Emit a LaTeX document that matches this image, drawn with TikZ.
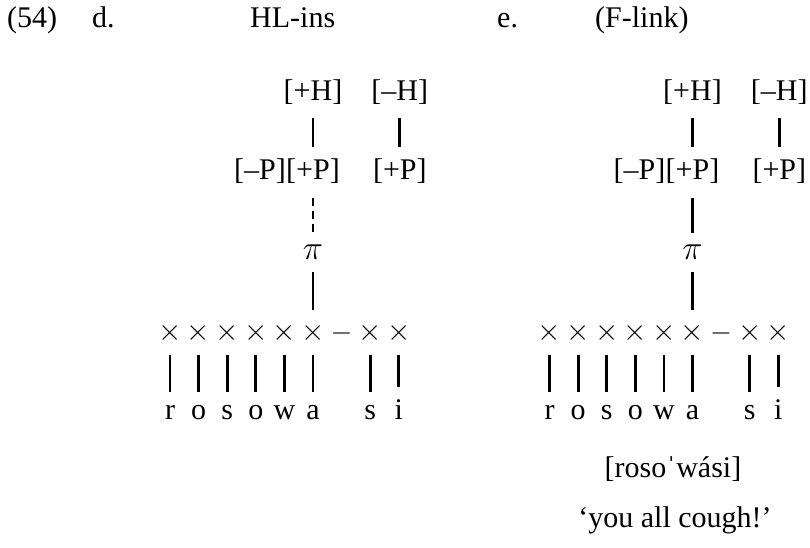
\documentclass[tikz,border=0pt]{standalone}
\usepackage{fix-cm}
\usepackage{fontspec}
\setmainfont{Liberation Serif}
\tikzset{
  txt/.style={inner sep=0pt, text height=20pt, text depth=6pt, font=\fontsize{30}{35}\selectfont},
  sym/.style={inner sep=0pt, font=\fontsize{30}{35}\selectfont},
  pisym/.style={inner sep=0pt, font=\fontsize{34}{40}\selectfont},
  lnk/.style={line width=2.8pt},
  dlnk/.style={line width=2.8pt, dash pattern=on 7.5pt off 5.5pt},
}
\newcommand\autotree[3]{%
  \foreach \i/\l in {0/r,1/o,2/s,3/o,4/w,5/a,7/s,8/i} {
    \node[sym] (#1x\i) at ({#2+28.6*\i},333) {$\times$};
    \node[txt, anchor=base] (#1s\i) at ({#2+28.6*\i},419) {\l};
  }
  \node[sym, font=\fontsize{28}{34}\selectfont] (#1dash) at ({#2+28.6*6},333) {$-$};
  \node[pisym, anchor=base] (#1pi) at ({#2+28.6*5},259) {$\pi$};
  \node[txt, anchor=base] (#1hp) at ({#2+28.6*5},101) {[+H]};
  \node[txt, anchor=base] (#1hm) at ({#2+28.6*8+1},101) {[–H]};
  \node[txt, anchor=base] (#1pp) at ({#2+28.6*5},179) {[+P]};
  \node[txt, anchor=base east] (#1pm) at (#1pp.base west) {[–P]};
  \node[txt, anchor=base] (#1pr) at ({#2+28.6*8+1},179) {[+P]};
  \draw[lnk, shorten <=11pt, shorten >=12pt] (#1hp) -- (#1pp);
  \draw[lnk, shorten <=11pt, shorten >=12pt] (#1hm) -- (#1pr);
  \draw[#3, shorten <=13pt, shorten >=11.3pt] (#1pp) -- (#1pi);
  \draw[lnk, shorten <=13pt, shorten >=13pt] (#1pi) -- (#1x5);
  \foreach \i in {0,1,2,3,4,5,7} {
    \draw[lnk, shorten <=12pt, shorten >=7pt] (#1x\i) -- (#1s\i);
  }
  \draw[lnk, shorten <=12pt, shorten >=12pt] (#1x8) -- (#1s8);
}
\begin{document}
\begin{tikzpicture}[x=1pt,y=-1pt]
  \useasboundingbox (0,0) rectangle (810,548);
  \node[txt, anchor=base west] (num) at (7,28) {(54)};
  \node[txt, anchor=base west] (labd) at (92,28) {d.};
  \node[txt, anchor=base west] (titd) at (250,28) {HL-ins};
  \node[txt, anchor=base west] (labe) at (497,28) {e.};
  \node[txt, anchor=base west] (tite) at (595,28) {(F-link)};
  \autotree{L}{170}{dlnk}
  \autotree{R}{549.5}{lnk}
  \node[txt, anchor=base] (ipa) at (673,477) {[rosoˈwási]};
  \node[txt, anchor=base] (gloss) at (675,527) {‘you all cough!’};
\end{tikzpicture}
\end{document}
